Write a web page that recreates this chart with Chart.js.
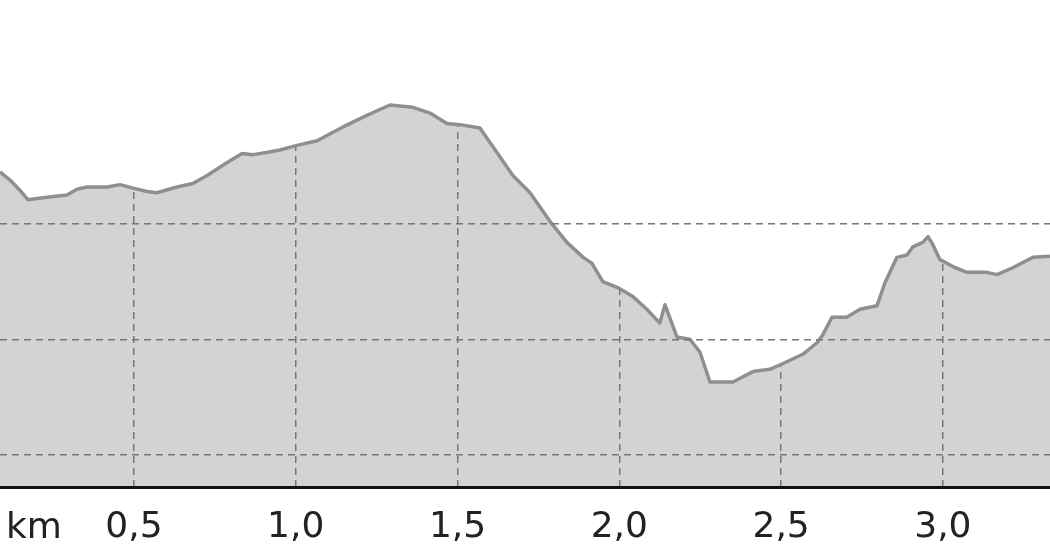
<!DOCTYPE html>
<html>
<head>
<meta charset="utf-8">
<script src="https://cdn.jsdelivr.net/npm/chart.js@4/dist/chart.umd.min.js"></script>
<style>
  html, body { margin: 0; padding: 0; background: #fff; }
  #wrap { width: 1050px; height: 560px; position: relative; }
</style>
</head>
<body>
<div id="wrap"><canvas id="profile"></canvas></div>
<script>
// Distance along the route (km) and elevation (m)
const distKm = [
  0.086, 0.117, 0.148, 0.172, 0.231, 0.293, 0.324, 0.355, 0.417, 0.457,
  0.497, 0.540, 0.571, 0.633, 0.682, 0.726, 0.787, 0.834, 0.868, 0.914,
  0.951, 1.004, 1.066, 1.146, 1.220, 1.291, 1.362, 1.415, 1.467, 1.507,
  1.569, 1.609, 1.671, 1.724, 1.786, 1.838, 1.888, 1.915, 1.949, 1.993,
  2.042, 2.085, 2.125, 2.141, 2.178, 2.218, 2.249, 2.280, 2.351, 2.413,
  2.465, 2.506, 2.567, 2.611, 2.629, 2.657, 2.703, 2.744, 2.796, 2.821,
  2.858, 2.889, 2.907, 2.938, 2.954, 2.969, 2.991, 3.031, 3.074, 3.136,
  3.167, 3.216, 3.278, 3.331
];
const elevation = [
  124.5, 123.8, 122.9, 122.1, 122.3, 122.5, 123.0, 123.2, 123.2, 123.4,
  123.1, 122.8, 122.7, 123.2, 123.5, 124.2, 125.3, 126.1, 126.0, 126.2,
  126.4, 126.8, 127.2, 128.4, 129.4, 130.3, 130.1, 129.6, 128.7, 128.6,
  128.3, 126.7, 124.2, 122.7, 120.2, 118.4, 117.1, 116.6, 115.0, 114.5,
  113.7, 112.6, 111.4, 113.0, 110.2, 110.0, 108.9, 106.3, 106.3, 107.2,
  107.4, 107.9, 108.7, 109.7, 110.4, 111.9, 111.9, 112.6, 112.9, 114.9,
  117.1, 117.3, 118.0, 118.4, 118.9, 118.2, 116.9, 116.3, 115.8, 115.8,
  115.6, 116.2, 117.1, 117.2
];
const xTicks = [0.5, 1.0, 1.5, 2.0, 2.5, 3.0];
const yTicks = [100, 110, 120];

const points = distKm.map((d, i) => ({ x: d, y: elevation[i] }));

// draws the unit name at the left end of the axis
const kmLabel = {
  id: 'kmLabel',
  afterDraw(chart) {
    const c = chart.ctx;
    const x = chart.scales.x;
    c.save();
    c.font = '36px "DejaVu Sans"';
    c.fillStyle = '#222';
    c.textBaseline = 'middle';
    c.fillText('km', 6, x.top + 42);
    c.restore();
  }
};

new Chart(document.getElementById('profile'), {
  type: 'line',
  data: {
    datasets: [
      {
        // profile: drawn last so its line sits on top
        data: points,
        fill: 'start',
        backgroundColor: 'rgba(0,0,0,0.173)',
        borderColor: '#8f8f8f',
        borderWidth: 3.5,
        borderJoinStyle: 'round',
        pointRadius: 0,
        tension: 0
      },
      {
        // white above the profile hides the vertical grid there
        data: points,
        fill: 'end',
        backgroundColor: '#ffffff',
        borderWidth: 0,
        pointRadius: 0,
        tension: 0
      }
    ]
  },
  options: {
    responsive: true,
    maintainAspectRatio: false,
    animation: false,
    layout: { padding: 0 },
    plugins: {
      legend: { display: false },
      tooltip: { enabled: false }
    },
    scales: {
      x: {
        type: 'linear',
        min: distKm[0],
        max: distKm[distKm.length - 1],
        afterBuildTicks: s => { s.ticks = xTicks.map(v => ({ value: v })); },
        afterFit: s => { s.height = 73; },
        grid: {
          color: 'rgb(144,144,144)',
          lineWidth: 1.5,
          drawTicks: false
        },
        border: { display: true, color: '#111', width: 3, dash: [7, 5] },
        ticks: {
          autoSkip: false,
          maxRotation: 0,
          padding: 19,
          color: '#222',
          font: { family: 'DejaVu Sans', size: 36 },
          callback: v => v.toFixed(1).replace('.', ',')
        }
      },
      y: {
        min: 97.2,
        max: 139.4,
        afterBuildTicks: s => { s.ticks = yTicks.map(v => ({ value: v })); },
        afterFit: s => { s.width = 0; },
        grid: {
          color: 'rgb(119,119,119)',
          lineWidth: 1.5,
          drawTicks: false,
          z: 1
        },
        border: { display: false, dash: [7, 5] },
        ticks: { display: false }
      }
    }
  },
  plugins: [kmLabel]
});
</script>
</body>
</html>
